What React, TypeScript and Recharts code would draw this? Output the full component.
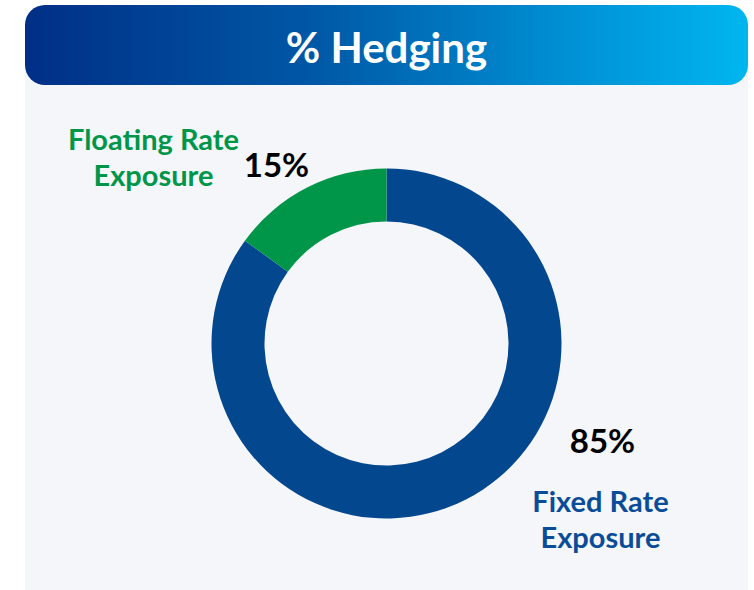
import { PieChart, Pie, Cell } from "recharts";

// hedging split, percent of total debt
const segmentNames = ["Fixed Rate Exposure", "Floating Rate Exposure"];
const segmentValues = [85, 15];
const segmentColors = ["#03478f", "#00964a"];
const nameColors = ["#0b4c98", "#00964a"];

const data = segmentNames.map((name, i) => ({ name, value: segmentValues[i] }));

// label offsets from the pie centre (pct = percent text, name = caption block)
const labelPos = [
  { pctX: 216, pctY: 109, nameX: 214, nameY: 168 },
  { pctX: -110, pctY: -167, nameX: -233, nameY: -194 },
];

const FONT = "Lato, 'Open Sans', sans-serif";
const CX = 386.5;
const CY = 343.5;

function renderLabel(props: any) {
  const { cx, cy, index, value, name } = props;
  const p = labelPos[index];
  const words = String(name).split(" ");
  const lines = [words.slice(0, -1).join(" "), words[words.length - 1]];
  return (
    <g key={`lbl-${index}`}>
      <text
        x={cx + p.pctX}
        y={cy + p.pctY}
        textAnchor="middle"
        fontFamily={FONT}
        fontWeight={700}
        fontSize={33}
        fill="#000"
      >
        {`${value}%`}
      </text>
      {lines.map((ln, j) => (
        <text
          key={j}
          x={cx + p.nameX}
          y={cy + p.nameY + j * 36}
          textAnchor="middle"
          fontFamily={FONT}
          fontWeight={700}
          fontSize={29}
          fill={nameColors[index]}
        >
          {ln}
        </text>
      ))}
    </g>
  );
}

export default function App() {
  return (
    <div
      style={{
        position: "absolute",
        left: 0,
        top: 0,
        width: 754,
        height: 590,
        background: "#ffffff",
        overflow: "hidden",
      }}
    >
      <div
        style={{
          position: "absolute",
          left: 25,
          top: 60,
          width: 723,
          height: 540,
          background: "#f4f6f9",
        }}
      />
      <div
        style={{
          position: "absolute",
          left: 25,
          top: 5,
          width: 723,
          height: 80,
          borderRadius: 20,
          background: "linear-gradient(to right, #002f86 0%, #0058a6 40%, #0090d4 75%, #00b6ef 100%)",
          color: "#fff",
          fontFamily: FONT,
          fontWeight: 700,
          fontSize: 42,
          display: "flex",
          alignItems: "center",
          justifyContent: "center",
          boxSizing: "border-box",
          paddingTop: 4,
        }}
      >
        % Hedging
      </div>
      <div style={{ position: "absolute", left: 0, top: 0 }}>
        <PieChart width={754} height={590} margin={{ top: 0, right: 0, bottom: 0, left: 0 }}>
          <Pie
            data={data}
            dataKey="value"
            nameKey="name"
            cx={CX}
            cy={CY}
            innerRadius={122}
            outerRadius={175}
            startAngle={90}
            endAngle={-270}
            stroke="none"
            label={renderLabel}
            labelLine={false}
            isAnimationActive={false}
          >
            {data.map((d, i) => (
              <Cell key={d.name} fill={segmentColors[i]} />
            ))}
          </Pie>
        </PieChart>
      </div>
    </div>
  );
}
